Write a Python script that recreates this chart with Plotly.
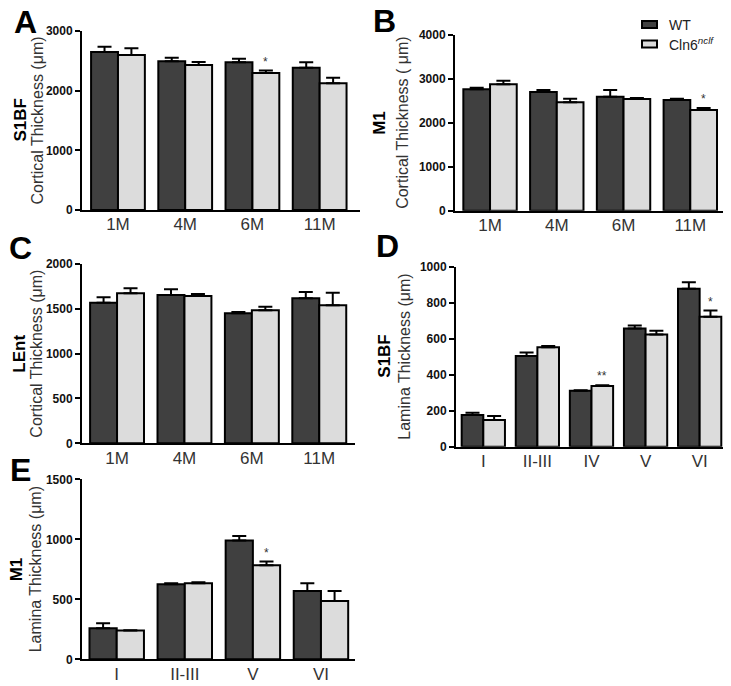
import plotly.graph_objects as go

W, H = 731, 686
OX, OY = 8, 8  # page body margin offset of the html page
FONT = "Arial, Liberation Sans, sans-serif"
DARK = "#404040"
LIGHT = "#dcdcdc"

# ---------------- data ----------------
months = ["1M", "4M", "6M", "11M"]

A_wt = [2650, 2495, 2475, 2385]
A_wt_err = [85, 55, 60, 90]
A_cln = [2598, 2430, 2296, 2123]
A_cln_err = [112, 50, 40, 95]
A_sig = ["", "", "*", ""]

B_wt = [2764, 2702, 2595, 2520]
B_wt_err = [36, 46, 153, 30]
B_cln = [2877, 2468, 2543, 2292]
B_cln_err = [83, 82, 22, 46]
B_sig = ["", "", "", "*"]

C_wt = [1569, 1654, 1450, 1617]
C_wt_err = [59, 63, 15, 71]
C_cln = [1673, 1643, 1483, 1539]
C_cln_err = [56, 22, 41, 141]
C_sig = ["", "", "", ""]

D_layers = ["I", "II-III", "IV", "V", "VI"]
D_wt = [176, 504, 311, 657, 878]
D_wt_err = [13, 20, 3, 17, 35]
D_cln = [148, 552, 337, 624, 722]
D_cln_err = [22, 7, 4, 20, 34]
D_sig = ["", "", "**", "", "*"]

E_layers = ["I", "II-III", "V", "VI"]
E_wt = [258, 625, 989, 569]
E_wt_err = [42, 8, 39, 64]
E_cln = [239, 633, 783, 486]
E_cln_err = [3, 9, 31, 83]
E_sig = ["", "", "*", ""]

series_names = ["WT", "Cln6<sup><i>nclf</i></sup>"]


def px(x):
    return (x - OX) / W


def py(y):
    return 1 - (y - OY) / H


panels = [
    dict(letter="A", region="S1BF", ytitle="Cortical Thickness (μm)", cats=months,
         wt=A_wt, wte=A_wt_err, cln=A_cln, clne=A_cln_err, sig=A_sig,
         box=(82, 360, 31, 210), xr=[-0.535, 3.6], yr=[0, 3000], dt=1000,
         letter_xy=(25, 22), region_x=20, title_x=37),
    dict(letter="B", region="M1", ytitle="Cortical Thickness ( μm)", cats=months,
         wt=B_wt, wte=B_wt_err, cln=B_cln, clne=B_cln_err, sig=B_sig,
         box=(455, 723, 35, 210.7), xr=[-0.525, 3.49], yr=[0, 4000], dt=1000,
         letter_xy=(384, 21), region_x=380, title_x=403),
    dict(letter="C", region="LEnt", ytitle="Cortical Thickness (μm)", cats=months,
         wt=C_wt, wte=C_wt_err, cln=C_cln, clne=C_cln_err, sig=C_sig,
         box=(82, 355, 264, 443.3), xr=[-0.52, 3.53], yr=[0, 2000], dt=500,
         letter_xy=(20, 248), region_x=20, title_x=37),
    dict(letter="D", region="S1BF", ytitle="Lamina Thickness (μm)", cats=D_layers,
         wt=D_wt, wte=D_wt_err, cln=D_cln, clne=D_cln_err, sig=D_sig,
         box=(456, 726.7, 266.7, 446.7), xr=[-0.505, 4.5], yr=[0, 1000], dt=200,
         letter_xy=(387, 246), region_x=385, title_x=405),
    dict(letter="E", region="M1", ytitle="Lamina Thickness (μm)", cats=E_layers,
         wt=E_wt, wte=E_wt_err, cln=E_cln, clne=E_cln_err, sig=E_sig,
         box=(82, 355, 479.3, 659.3), xr=[-0.51, 3.5], yr=[0, 1500], dt=500,
         letter_xy=(20, 470), region_x=16, title_x=35),
]

fig = go.Figure()
annotations = []
layout_axes = {}

for i, p in enumerate(panels):
    n = "" if i == 0 else str(i + 1)
    xa, ya = "x" + n, "y" + n
    x0, x1, yt, yb = p["box"]
    for name, vals, errs, col in [(series_names[0], p["wt"], p["wte"], DARK),
                                  (series_names[1], p["cln"], p["clne"], LIGHT)]:
        fig.add_trace(go.Bar(
            x=p["cats"], y=vals, name=name, marker=dict(color=col, line=dict(color="black", width=2)),
            error_y=dict(type="data", symmetric=False, array=errs, arrayminus=[0] * len(errs),
                         color="black", thickness=2, width=7),
            xaxis=xa, yaxis=ya, showlegend=False))
    layout_axes["xaxis" + n] = dict(
        domain=[px(x0), px(x1)], anchor=ya, type="category", range=p["xr"], automargin=False,
        showline=True, linecolor="black", linewidth=2, ticks="", showgrid=False, zeroline=False,
        ticklabelstandoff=-2,
        tickfont=dict(family=FONT, size=17, color="#333"), fixedrange=True)
    layout_axes["yaxis" + n] = dict(
        domain=[py(yb), py(yt)], anchor=xa, range=p["yr"], dtick=p["dt"], tick0=0, automargin=False,
        showline=True, linecolor="black", linewidth=2, ticks="outside", ticklen=5, tickwidth=2,
        tickcolor="black", showgrid=False, zeroline=False,
        tickfont=dict(family=FONT, size=12, color="#111", weight="bold"), fixedrange=True)
    for j, s in enumerate(p["sig"]):
        if s:
            annotations.append(dict(x=j + 0.2, y=p["cln"][j] + p["clne"][j], xref=xa, yref=ya,
                                    text=s, showarrow=False, yanchor="bottom", yshift=0,
                                    font=dict(family=FONT, size=12, color="#333")))
    lx, ly = p["letter_xy"]
    annotations.append(dict(x=px(lx), y=py(ly), xref="paper", yref="paper", text="<b>%s</b>" % p["letter"],
                            showarrow=False, xanchor="center", yanchor="middle",
                            font=dict(family=FONT, size=32, color="black")))
    ymid = py((yt + yb) / 2)
    annotations.append(dict(x=px(p["region_x"]), y=ymid, xref="paper", yref="paper",
                            text="<b>%s</b>" % p["region"], textangle=-90, showarrow=False,
                            xanchor="center", yanchor="middle",
                            font=dict(family=FONT, size=17, color="black")))
    annotations.append(dict(x=px(p["title_x"]), y=ymid, xref="paper", yref="paper",
                            text=p["ytitle"], textangle=-90, showarrow=False,
                            xanchor="center", yanchor="middle",
                            font=dict(family=FONT, size=16, color="#333")))

shapes = []
leg = [(series_names[0], DARK, 24.5), (series_names[1], LIGHT, 44)]
for name, col, yc in leg:
    shapes.append(dict(type="rect", xref="paper", yref="paper",
                       x0=px(642), x1=px(657), y0=py(yc + 3.5), y1=py(yc - 3.5),
                       fillcolor=col, line=dict(color="black", width=2)))
    annotations.append(dict(x=px(667), y=py(yc), xref="paper", yref="paper", text=name,
                            showarrow=False, xanchor="left", yanchor="middle",
                            font=dict(family=FONT, size=14, color="#222")))

fig.update_layout(
    template="none",
    width=W, height=H, margin=dict(l=0, r=0, t=0, b=0, autoexpand=False),
    paper_bgcolor="white", plot_bgcolor="white", showlegend=False,
    barmode="group", bargap=0.2, bargroupgap=0,
    annotations=annotations, shapes=shapes, **layout_axes)

fig.write_html("out.html")
